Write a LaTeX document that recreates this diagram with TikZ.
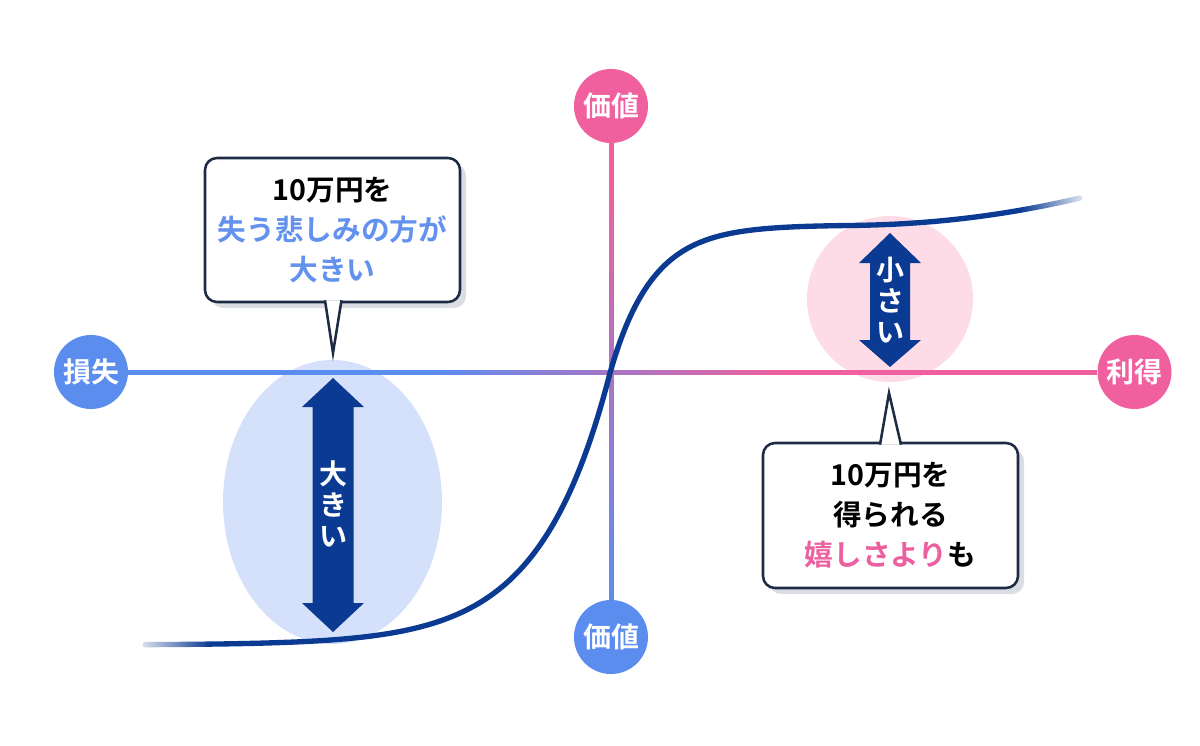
\documentclass[tikz,border=0pt]{standalone}
\usepackage{fontspec}
\setmainfont{Noto Sans CJK JP}[BoldFont={Noto Sans CJK JP Bold}]
\usetikzlibrary{fadings,shadows}
\definecolor{axblue}{HTML}{5B8DEF}
\definecolor{axpink}{HTML}{F0609E}
\definecolor{navy}{HTML}{0B3A93}
\definecolor{ellblue}{HTML}{D5E1FA}
\definecolor{circpink}{HTML}{FDDCE8}
\definecolor{cborder}{HTML}{1E2B45}
\definecolor{cshadow}{HTML}{DADDE3}
\definecolor{txtblue}{HTML}{6391EE}
\definecolor{txtpink}{HTML}{EC5FA0}
\tikzfading[name=fadeoutleft, left color=transparent!0, right color=transparent!100]
\tikzfading[name=fadeoutright, left color=transparent!100, right color=transparent!0]
\tikzset{
  lab/.style={circle, minimum size=55.5pt, inner sep=0pt, text=white,
    font=\fontsize{21pt}{24pt}\selectfont\bfseries},
  callout/.style={draw=cborder, line width=1.9pt, fill=white, rounded corners=9pt,
    inner sep=0pt, align=center,
    drop shadow={shadow xshift=4.5pt, shadow yshift=-4.5pt, fill=cshadow, opacity=1},
    font=\fontsize{21.5pt}{30pt}\selectfont\bfseries},
  tailline/.style={draw=cborder, line width=1.9pt, fill=white, line join=miter},
  vtext/.style={text=white, align=center, inner sep=0pt,
    font=\fontsize{21pt}{23pt}\selectfont\bfseries},
  curve/.style={draw=navy, line width=4pt, line cap=round, line join=round},
  dblarrow/.style={fill=navy}
}
\begin{document}
\begin{tikzpicture}[x=0.75pt,y=-0.75pt]
\useasboundingbox (0,0) rectangle (1200,746);
% background highlight shapes
\fill[ellblue] (332.5,502) ellipse [x radius=82.1pt, y radius=106.5pt];
\fill[circpink] (890,299) circle [radius=62.25pt];
% horizontal axis
\fill[axblue] (128,369.5) rectangle (431,374.5);
\foreach \i in {0,...,35} {
  \pgfmathsetmacro\p{100-\i*100/35}
  \fill[axblue!\p!axpink] ({430+\i*10},369.5) rectangle ({441+\i*10},374.5);
}
\fill[axpink] (789,369.5) rectangle (1097,374.5);
% vertical axis
\fill[axpink] (608.5,143) rectangle (613.5,181);
\foreach \i in {0,...,41} {
  \pgfmathsetmacro\p{100-\i*100/41}
  \fill[axpink!\p!axblue] (608.5,{180+\i*10}) rectangle (613.5,{191+\i*10});
}
\fill[axblue] (608.5,589) rectangle (613.5,600);
% value curve
\draw[curve] plot[domain=145:610, samples=120, smooth]
    (\x,{645-272*exp(-(610-\x)/70)})
  -- plot[domain=610:1080, samples=120, smooth]
    (\x,{373-148*(1-exp(-(\x-610)/42))-27*(max(0,\x-850)/230)^2});
\fill[white, path fading=fadeoutleft] (130,628) rectangle (210,660);
\fill[white, path fading=fadeoutright] (1020,180) rectangle (1092,222);
% double arrows
\fill[dblarrow] (333,378) -- (364,407) -- (353.5,407) -- (353.5,603) -- (364,603)
  -- (333,632) -- (302,603) -- (312.5,603) -- (312.5,407) -- (302,407) -- cycle;
\fill[dblarrow] (890,233) -- (921,263) -- (910,263) -- (910,340) -- (921,340)
  -- (890,367) -- (859,340) -- (870,340) -- (870,263) -- (859,263) -- cycle;
\node[vtext] (big) at (333,504) {大\\き\\い};
\node[vtext] (small) at (890,300) {小\\さ\\い};
% callouts
\node[callout, minimum width=191.25pt, minimum height=108pt] (c1) at (332.5,230)
  {10万円を\\{\color{txtblue}失う悲しみの方が}\\{\color{txtblue}大きい}};
\path[tailline] (325,300.3) -- (333,353) -- (341.5,300.3);
\node[callout, minimum width=191.25pt, minimum height=108.75pt] (c2) at (890.5,515.5)
  {10万円を\\得られる\\{\color{txtpink}嬉しさより}も};
\path[tailline] (880,444.7) -- (889,393) -- (901,444.7);
% axis labels
\node[lab, fill=axblue] (loss) at (91,372) {損失};
\node[lab, fill=axpink] (gain) at (1134.5,372) {利得};
\node[lab, fill=axpink] (vtop) at (611,106) {価値};
\node[lab, fill=axblue] (vbot) at (611,637) {価値};
\end{tikzpicture}
\end{document}
